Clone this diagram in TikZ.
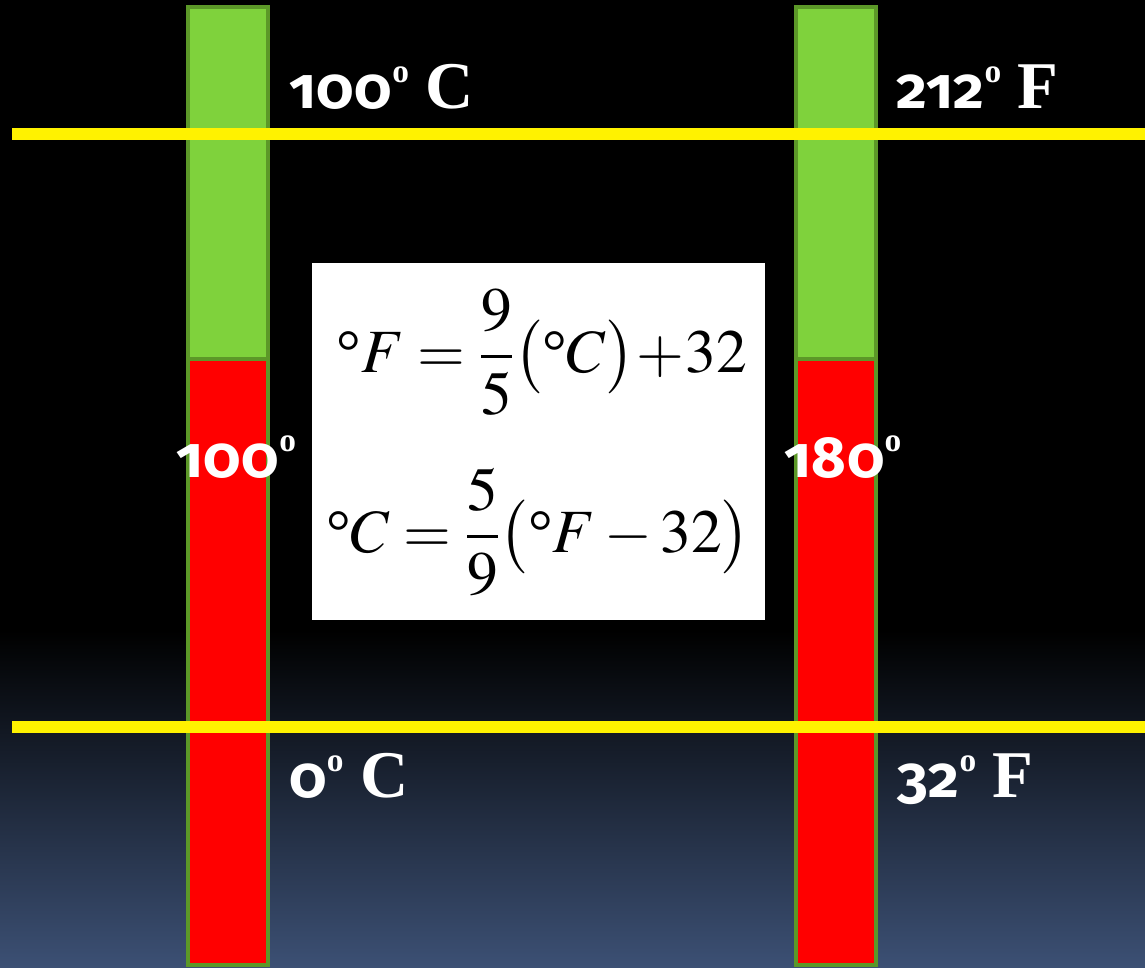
\documentclass[tikz,border=0pt]{standalone}
\usepackage{amsmath}
\usepackage{mathptmx}
\usepackage{fontspec}
\setmainfont{Liberation Serif}
\newfontfamily\numfont{Fira Sans}[Numbers=OldStyle,LetterSpace=1,FakeStretch=1.03]
\usetikzlibrary{positioning}

\definecolor{bargreen}{RGB}{127,210,60}
\definecolor{barline}{RGB}{92,152,40}
\definecolor{barred}{RGB}{255,0,0}
\definecolor{bgblue}{RGB}{60,80,116}

\tikzset{
  bar/.style={draw=barline,line width=2.3pt},
  level/.style={draw=yellow,line width=6.8pt},
  temp/.style={text=white,inner sep=0pt,anchor=base west,font=\fontsize{38}{40}\selectfont\bfseries},
  eq/.style={inner sep=0pt,anchor=base,font=\fontsize{35}{40}\selectfont}
}
\newcommand{\tdeg}{\raisebox{14.5pt}{\fontsize{19}{19}\selectfont o}}
\newcommand{\tnum}[1]{{\numfont\fontsize{33}{36}\selectfont #1}}
\newcommand{\dg}{\mbox{°}}

\begin{document}
\begin{tikzpicture}[x=0.02cm,y=-0.02cm]
\useasboundingbox (0,0) rectangle (1145,967);
% background
\fill[black] (0,0) rectangle (1145,631);
\shade[top color=black,bottom color=bgblue] (0,630) rectangle (1145,967);
% the two columns
\filldraw[bar,fill=bargreen] (188,7) rectangle (268,359);
\filldraw[bar,fill=barred] (188,359) rectangle (268,965);
\filldraw[bar,fill=bargreen] (796,7) rectangle (876,359);
\filldraw[bar,fill=barred] (796,359) rectangle (876,965);
% boiling and freezing levels
\coordinate (boil) at (12,134); \coordinate (boil end) at (1145,134);
\coordinate (freeze) at (12,727); \coordinate (freeze end) at (1145,727);
\draw[level] (boil) -- (boil end);
\draw[level] (freeze) -- (freeze end);
% labels
\node[temp] (boilC) at (289,108) {\tnum{100}\tdeg\ C};
\node[temp] (boilF) at (896,108) {\tnum{212}\tdeg\ F};
\node[temp] (spanC) at (176,477) {\tnum{100}\tdeg};
\node[temp] (spanF) at (784,477) {\tnum{180}\tdeg};
\node[temp] (freezeC) at (289,797) {\tnum{0}\tdeg\ C};
\node[temp] (freezeF) at (897,797) {\tnum{32}\tdeg\ F};
% formulas
\node[fill=white,inner sep=0pt,minimum width=9.06cm,minimum height=7.14cm] (formulas) at (538.5,441.5) {};
\node[eq] (ctof) at (542,372) {$\dg F=\dfrac{9}{5}\bigl(\dg C\bigr)\!+\!32$};
\node[eq] (ftoc) at (538,552) {$\dg C=\dfrac{5}{9}\bigl(\dg F-32\bigr)$};
\end{tikzpicture}
\end{document}
